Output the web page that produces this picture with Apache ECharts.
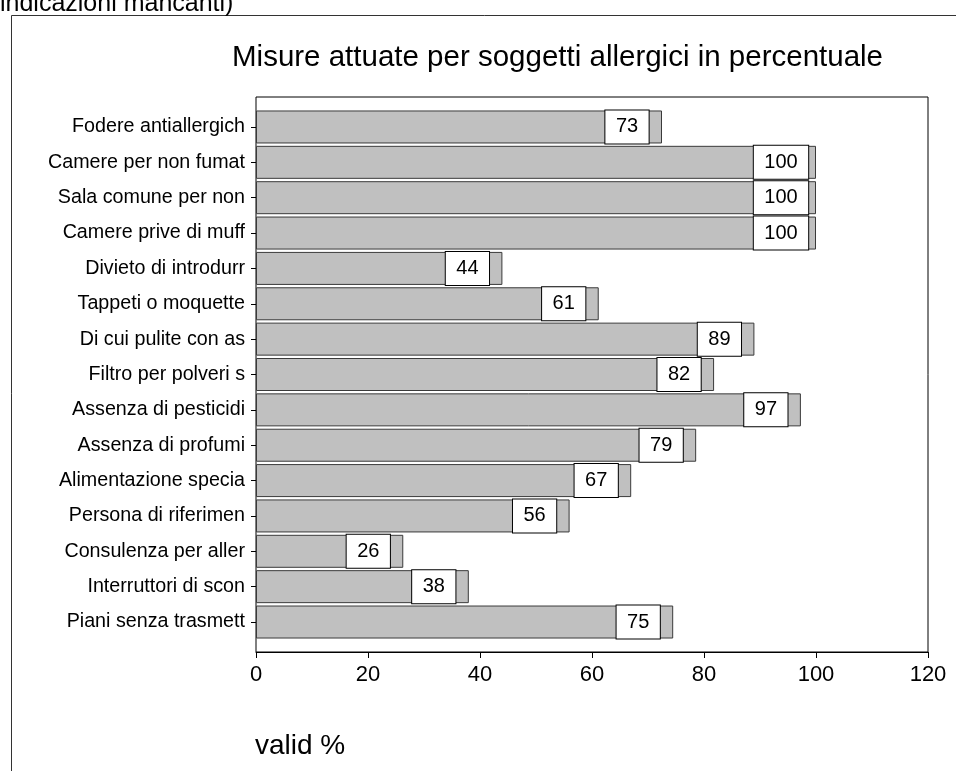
<!DOCTYPE html>
<html>
<head>
<meta charset="utf-8">
<style>
  html, body { margin: 0; padding: 0; background: #fff; }
  #chart { width: 956px; height: 771px; }
</style>
<script src="https://cdn.jsdelivr.net/npm/echarts@6/dist/echarts.min.js"></script>
</head>
<body>
<div id="chart"></div>
<script>
var categories = ['Fodere antiallergich', 'Camere per non fumat', 'Sala comune per non', 'Camere prive di muff', 'Divieto di introdurr', 'Tappeti o moquette', 'Di cui pulite con as', 'Filtro per polveri s', 'Assenza di pesticidi', 'Assenza di profumi', 'Alimentazione specia', 'Persona di riferimen', 'Consulenza per aller', 'Interruttori di scon', 'Piani senza trasmett'];
var values = [72.5, 100, 100, 100, 44, 61.2, 89, 81.8, 97.3, 78.6, 67, 56, 26.3, 38, 74.5];
var valueLabels = ['73', '100', '100', '100', '44', '61', '89', '82', '97', '79', '67', '56', '26', '38', '75'];
var xTicks = { min: 0, max: 120, interval: 20 };
var titleText = 'Misure attuate per soggetti allergici in percentuale';
var axisName = 'valid %';
var topNote = 'indicazioni mancanti)';

var FONT = "'Liberation Sans', Arial, Helvetica, sans-serif";
var chart = echarts.init(document.getElementById('chart'), null, { renderer: 'canvas' });

var option = {
  backgroundColor: '#ffffff',
  animation: false,
  title: {
    text: titleText,
    left: 232,
    top: 43,
    padding: 0,
    textStyle: { fontFamily: FONT, fontSize: 29.5, fontWeight: 'normal', color: '#000' }
  },
  graphic: [
    {
      type: 'polyline',
      shape: { points: [[11.5, 790], [11.5, 15.5], [970, 15.5]] },
      style: { stroke: '#333', lineWidth: 1, fill: null },
      silent: true
    },
    {
      type: 'text',
      left: 0,
      top: -8,
      style: { text: topNote, fontFamily: FONT, fontSize: 25, fill: '#000' },
      silent: true
    },
    {
      type: 'text',
      left: 255,
      top: 732,
      style: { text: axisName, fontFamily: FONT, fontSize: 28, fill: '#000' },
      silent: true
    }
  ],
  grid: [
    { left: 256, right: 28, top: 97, bottom: 119, show: true, borderColor: '#000', borderWidth: 1, backgroundColor: 'transparent' },
    { left: 256, right: 28, top: 109.3, bottom: 131.3 }
  ],
  xAxis: [
    {
      gridIndex: 0, type: 'value', min: xTicks.min, max: xTicks.max, interval: xTicks.interval,
      axisLine: { show: true, lineStyle: { color: '#000', width: 1 } },
      axisTick: { show: true, inside: false, length: 6, lineStyle: { color: '#000' } },
      axisLabel: { show: true, margin: 12, fontFamily: FONT, fontSize: 22, color: '#000' },
      splitLine: { show: false }
    },
    {
      gridIndex: 1, type: 'value', min: xTicks.min, max: xTicks.max, interval: xTicks.interval,
      show: false
    }
  ],
  yAxis: [
    { gridIndex: 0, type: 'value', min: 0, max: 1, show: false },
    {
      gridIndex: 1, type: 'category', data: categories, inverse: true,
      axisLine: { show: false },
      axisTick: { show: true, alignWithLabel: true, length: 5, lineStyle: { color: '#000' } },
      axisLabel: { show: true, margin: 11, fontFamily: FONT, fontSize: 19.7, color: '#000' },
      splitLine: { show: false }
    }
  ],
  series: [
    {
      type: 'bar',
      xAxisIndex: 1,
      yAxisIndex: 1,
      data: values,
      barWidth: 33,
      itemStyle: { color: '#c0c0c0', borderColor: '#3a3a3a', borderWidth: 1 },
      label: {
        show: true,
        position: ['100%', '50%'],
        align: 'center',
        verticalAlign: 'middle',
        offset: [-35, 0],
        formatter: function (p) { return valueLabels[p.dataIndex]; },
        fontFamily: FONT,
        fontSize: 20,
        lineHeight: 20,
        color: '#000',
        backgroundColor: '#fff',
        borderColor: '#000',
        borderWidth: 1,
        padding: [6.5, 10.5]
      },
      silent: true
    }
  ]
};
chart.setOption(option);
</script>
</body>
</html>
